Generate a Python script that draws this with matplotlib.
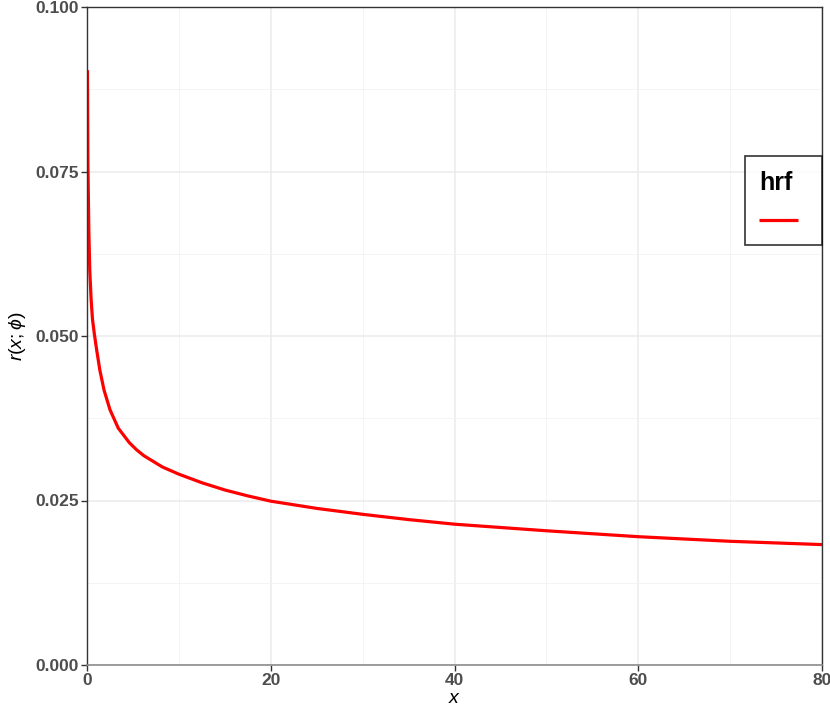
import matplotlib
matplotlib.use("Agg")
import matplotlib.pyplot as plt
from matplotlib.ticker import MultipleLocator

plt.rcParams['font.family'] = ['Liberation Sans', 'DejaVu Sans']
plt.rcParams['mathtext.fontset'] = 'custom'
plt.rcParams['mathtext.it'] = 'Liberation Sans:italic'
plt.rcParams['mathtext.rm'] = 'Liberation Sans'

# data
x_vals = [0.05, 0.1, 0.2, 0.3, 0.45, 0.6, 0.8, 1.05, 1.4, 1.85, 2.5, 3.4, 4.6,
          5.4, 6.2, 8.2, 10, 12.5, 15, 17.5, 20, 25, 30, 35, 40, 50, 60, 70, 80]
hrf_vals = [0.0904, 0.0760, 0.0660, 0.0600, 0.0555, 0.0525, 0.0503, 0.0479,
            0.0448, 0.0418, 0.0388, 0.0360, 0.0338, 0.0327, 0.0318, 0.0301,
            0.0290, 0.0277, 0.0266, 0.0257, 0.0249, 0.0238, 0.0229, 0.0221,
            0.0214, 0.0204, 0.0195, 0.0188, 0.0183]
x_ticks = [0, 20, 40, 60, 80]
y_ticks = [0.000, 0.025, 0.050, 0.075, 0.100]
y_ticklabels = ["0.000", "0.025", "0.050", "0.075", "0.100"]

fig = plt.figure(figsize=(8.3, 7.15), dpi=100)
ax = fig.add_axes([87/830, 1-665/715, (822-87)/830, (665-7)/715])

ax.plot(x_vals, hrf_vals, color='red', lw=2.3, label=' ',
        solid_capstyle='butt', solid_joinstyle='round')

ax.set_xlim(0, 80)
ax.set_ylim(0, 0.1)
ax.set_xticks(x_ticks)
ax.set_yticks(y_ticks)
ax.set_yticklabels(y_ticklabels)
ax.xaxis.set_minor_locator(MultipleLocator(10))
ax.yaxis.set_minor_locator(MultipleLocator(0.0125))
ax.grid(which='major', color='#ebebeb', lw=1.1)
ax.grid(which='minor', color='#f2f2f2', lw=0.6)
ax.set_axisbelow(True)

for s in ['left', 'top', 'right']:
    ax.spines[s].set_color('#333333')
    ax.spines[s].set_linewidth(1.0)
ax.spines['bottom'].set_color('#8c8c8c')
ax.spines['bottom'].set_linewidth(1.2)

ax.tick_params(axis='both', which='major', length=4, width=1, color='#333333',
               labelsize=12.5, labelcolor='#4d4d4d', pad=2)
ax.tick_params(axis='both', which='minor', length=0)
for lab in ax.get_xticklabels() + ax.get_yticklabels():
    lab.set_fontweight('bold')

ax.set_xlabel('$x$', fontsize=14, labelpad=1)
ax.set_ylabel(r'$r(x;\phi)$', fontsize=14, labelpad=5)

leg = ax.legend(title='hrf', loc='upper right',
                bbox_to_anchor=(822/830, 1-156/715), bbox_transform=fig.transFigure,
                borderaxespad=0.0,
                frameon=True, fancybox=False, edgecolor='black', fontsize=14,
                handlelength=2.0, borderpad=0.75, labelspacing=0.95, handletextpad=0.2,
                title_fontproperties={'weight': 'bold', 'size': 18})
leg.get_frame().set_linewidth(1.2)
leg._legend_box.align = 'left'

fig.savefig('out.png', dpi=100)
